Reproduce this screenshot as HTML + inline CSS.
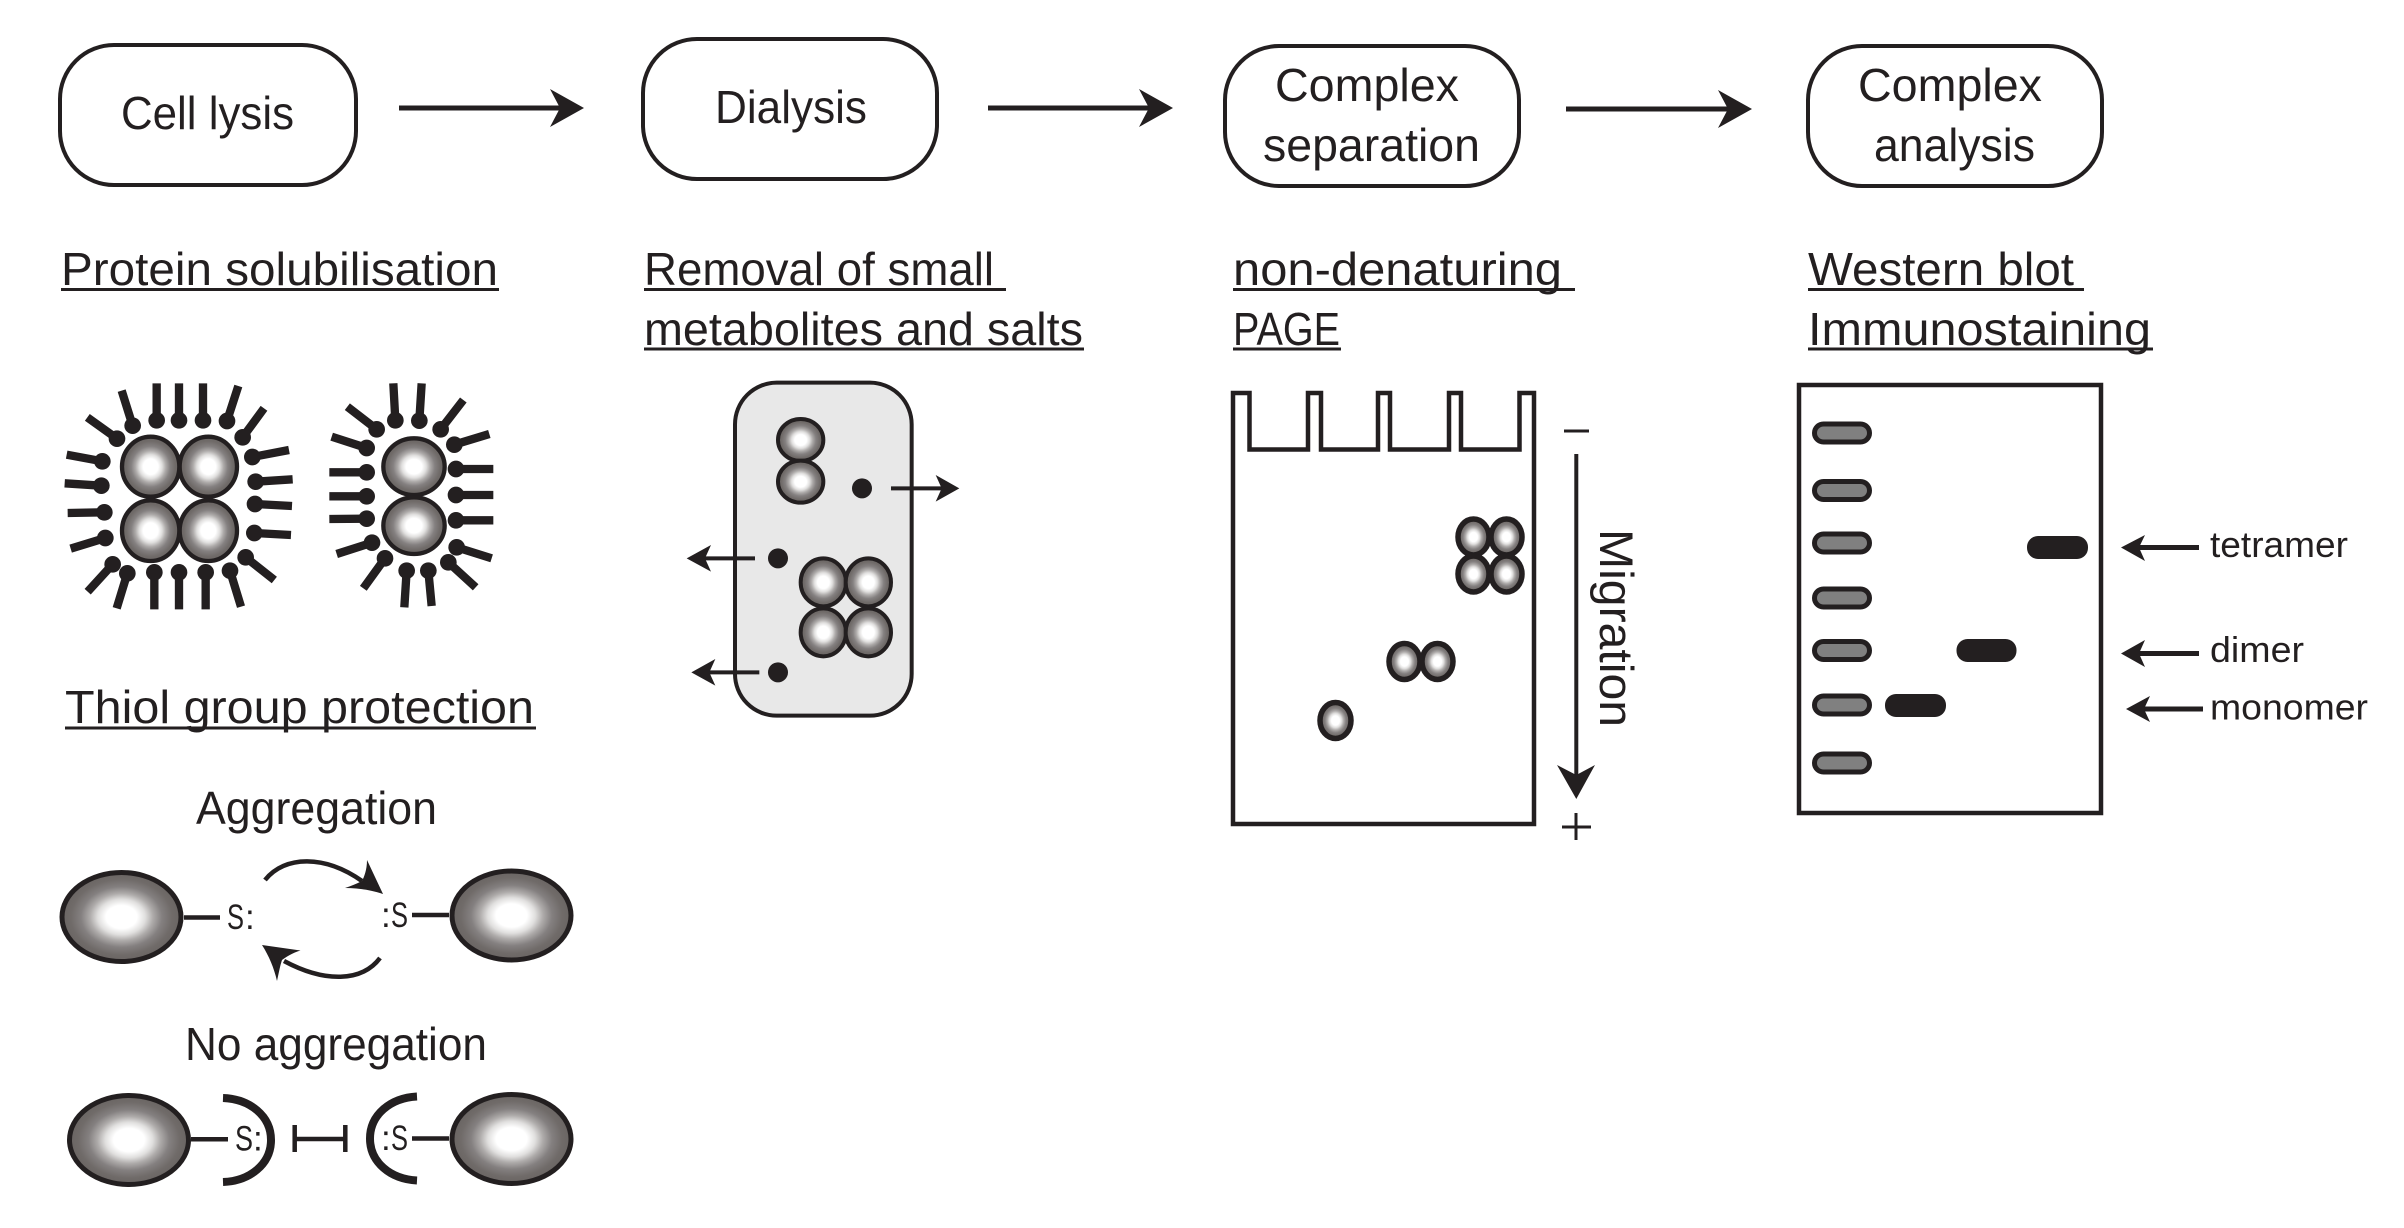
<!DOCTYPE html>
<html lang="en"><head><meta charset="utf-8"><title>Protein complex workflow</title>
<style>
html,body{margin:0;padding:0;background:#fff}
svg{display:block}
text{font-family:"Liberation Sans",sans-serif;fill:#231f20}
.t{font-size:46px}
.l{font-size:36px}
.s{font-size:35px}
.box{fill:#fff;stroke:#231f20;stroke-width:4}
.ln{stroke:#231f20;fill:none}
.hd{fill:#231f20;stroke:none}
.ov{fill:url(#g);stroke:#231f20}
.lad{fill:#808080;stroke:#231f20;stroke-width:5}
.blk{fill:#231f20}
</style></head><body>
<svg width="2404" height="1228" viewBox="0 0 2404 1228" xmlns="http://www.w3.org/2000/svg">
<defs>
<radialGradient id="g" cx="50%" cy="50%" r="50%">
<stop offset="0" stop-color="#fff"/><stop offset=".26" stop-color="#fff"/>
<stop offset=".4" stop-color="#e0dfde"/><stop offset=".53" stop-color="#aeabaa"/>
<stop offset=".68" stop-color="#848080"/><stop offset=".85" stop-color="#706b69"/><stop offset="1" stop-color="#696462"/>
</radialGradient>
</defs>
<rect width="2404" height="1228" fill="#fff"/>

<!-- process boxes -->
<rect class="box" x="60" y="45" width="296" height="140" rx="54"/>
<rect class="box" x="643" y="39" width="294" height="140" rx="54"/>
<rect class="box" x="1225" y="46" width="294" height="140" rx="54"/>
<rect class="box" x="1808" y="46" width="294" height="140" rx="54"/>
<text class="t" x="121" y="129" textLength="173" lengthAdjust="spacingAndGlyphs">Cell lysis</text>
<text class="t" x="715" y="123" textLength="152" lengthAdjust="spacingAndGlyphs">Dialysis</text>
<text class="t" x="1275" y="101" textLength="184" lengthAdjust="spacingAndGlyphs">Complex</text>
<text class="t" x="1263" y="161" textLength="217" lengthAdjust="spacingAndGlyphs">separation</text>
<text class="t" x="1858" y="101" textLength="184" lengthAdjust="spacingAndGlyphs">Complex</text>
<text class="t" x="1874" y="161" textLength="161" lengthAdjust="spacingAndGlyphs">analysis</text>

<!-- process arrows -->
<line class="ln" stroke-width="5" x1="399" y1="108" x2="562" y2="108"/><path class="hd" d="M584,108L550,89L560,108L550,127Z"/>
<line class="ln" stroke-width="5" x1="988" y1="108" x2="1151" y2="108"/><path class="hd" d="M1173,108L1139,89L1149,108L1139,127Z"/>
<line class="ln" stroke-width="5" x1="1566" y1="109" x2="1730" y2="109"/><path class="hd" d="M1752,109L1718,90L1728,109L1718,128Z"/>

<!-- headings -->
<text class="t" x="61" y="285" textLength="437" lengthAdjust="spacingAndGlyphs">Protein solubilisation</text>
<line class="ln" stroke-width="3" x1="61" y1="289.5" x2="499" y2="289.5"/>
<text class="t" x="644" y="285" textLength="350" lengthAdjust="spacingAndGlyphs">Removal of small</text>
<line class="ln" stroke-width="3" x1="644" y1="289.5" x2="1006" y2="289.5"/>
<text class="t" x="644" y="345" textLength="439" lengthAdjust="spacingAndGlyphs">metabolites and salts</text>
<line class="ln" stroke-width="3" x1="644" y1="349" x2="1084" y2="349"/>
<text class="t" x="1233" y="285" textLength="329" lengthAdjust="spacingAndGlyphs">non-denaturing</text>
<line class="ln" stroke-width="3" x1="1233" y1="289.5" x2="1575" y2="289.5"/>
<text class="t" x="1233" y="345" textLength="107" lengthAdjust="spacingAndGlyphs">PAGE</text>
<line class="ln" stroke-width="3" x1="1233" y1="349" x2="1341" y2="349"/>
<text class="t" x="1808" y="285" textLength="266" lengthAdjust="spacingAndGlyphs">Western blot</text>
<line class="ln" stroke-width="3" x1="1808" y1="289.5" x2="2084" y2="289.5"/>
<text class="t" x="1808" y="345" textLength="343" lengthAdjust="spacingAndGlyphs">Immunostaining</text>
<line class="ln" stroke-width="3" x1="1808" y1="349" x2="2153" y2="349"/>
<text class="t" x="65" y="723" textLength="469" lengthAdjust="spacingAndGlyphs">Thiol group protection</text>
<line class="ln" stroke-width="3" x1="65" y1="728" x2="536" y2="728"/>

<!-- micelles -->
<g transform="translate(40,360) scale(.33333)">
<g stroke="#231f20" stroke-width="25" fill="none">
<path d="M278,197L245,92M350,181L350,70M417,181L417,70M489,181L489,70M561,183L595,78M608,232L672,145M637,291L747,270M647,365L758,358M645,432L756,438M643,519L753,525M617,592L703,660M570,632L603,740M497,637L497,748M417,637L417,748M343,637L343,748M262,640L230,745M218,613L143,695M196,534L92,566M193,457L83,459M184,377L74,370M187,304L80,284M231,236L142,172"/>
<path d="M1066,181L1060,70M1138,182L1145,70M1202,208L1270,120M1243,254L1348,222M1248,327L1360,327M1248,405L1360,405M1248,481L1360,481M1250,562L1355,595M1225,607L1307,682M1165,632L1175,738M1100,632L1093,742M1035,595L970,685M996,548L890,582M980,476L868,477M980,409L868,409M980,337L868,337M980,264L875,230M1010,208L922,140"/>
</g>
<g fill="#231f20">
<circle cx="278" cy="197" r="25"/><circle cx="350" cy="181" r="25"/><circle cx="417" cy="181" r="25"/><circle cx="489" cy="181" r="25"/><circle cx="561" cy="183" r="25"/><circle cx="608" cy="232" r="25"/><circle cx="637" cy="291" r="25"/><circle cx="647" cy="365" r="25"/><circle cx="645" cy="432" r="25"/><circle cx="643" cy="519" r="25"/><circle cx="617" cy="592" r="25"/><circle cx="570" cy="632" r="25"/><circle cx="497" cy="637" r="25"/><circle cx="417" cy="637" r="25"/><circle cx="343" cy="637" r="25"/><circle cx="262" cy="640" r="25"/><circle cx="218" cy="613" r="25"/><circle cx="196" cy="534" r="25"/><circle cx="193" cy="457" r="25"/><circle cx="184" cy="377" r="25"/><circle cx="187" cy="304" r="25"/><circle cx="231" cy="236" r="25"/>
<circle cx="1066" cy="181" r="25"/><circle cx="1138" cy="182" r="25"/><circle cx="1202" cy="208" r="25"/><circle cx="1243" cy="254" r="25"/><circle cx="1248" cy="327" r="25"/><circle cx="1248" cy="405" r="25"/><circle cx="1248" cy="481" r="25"/><circle cx="1250" cy="562" r="25"/><circle cx="1225" cy="607" r="25"/><circle cx="1165" cy="632" r="25"/><circle cx="1100" cy="632" r="25"/><circle cx="1035" cy="595" r="25"/><circle cx="996" cy="548" r="25"/><circle cx="980" cy="476" r="25"/><circle cx="980" cy="409" r="25"/><circle cx="980" cy="337" r="25"/><circle cx="980" cy="264" r="25"/><circle cx="1010" cy="208" r="25"/>
</g>
<g stroke-width="13">
<ellipse class="ov" cx="332" cy="320" rx="86" ry="90"/><ellipse class="ov" cx="505" cy="320" rx="86" ry="90"/>
<ellipse class="ov" cx="332" cy="512" rx="86" ry="91"/><ellipse class="ov" cx="505" cy="512" rx="86" ry="91"/>
<ellipse class="ov" cx="1122" cy="320" rx="92" ry="85"/><ellipse class="ov" cx="1122" cy="497" rx="92" ry="85"/>
</g>
</g>

<!-- dialysis bag -->
<g transform="translate(680,370) scale(.33333)">
<rect x="165" y="38" width="530" height="999" rx="125" fill="#e8e8e8" stroke="#231f20" stroke-width="12"/>
<g stroke-width="12">
<ellipse class="ov" cx="362" cy="210" rx="68" ry="63"/><ellipse class="ov" cx="362" cy="335" rx="68" ry="63"/>
<ellipse class="ov" cx="430" cy="637" rx="68" ry="72"/><ellipse class="ov" cx="565" cy="637" rx="68" ry="72"/>
<ellipse class="ov" cx="430" cy="787" rx="68" ry="72"/><ellipse class="ov" cx="565" cy="787" rx="68" ry="72"/>
</g>
<g fill="#231f20"><circle cx="546" cy="355" r="30"/><circle cx="294" cy="565" r="30"/><circle cx="294" cy="907" r="30"/></g>
<g stroke="#231f20" stroke-width="12"><path d="M633,355H800M225,565H60M238,907H70"/></g>
<path class="hd" d="M838,355L767,315L785,355L767,395Z"/>
<path class="hd" d="M20,565L93,525L75,565L93,605Z"/>
<path class="hd" d="M34,907L106,867L88,907L106,947Z"/>
</g>

<!-- gel -->
<path class="ln" stroke-width="4.5" stroke-linejoin="miter" d="M1534,824V393H1519.5V449.5H1461V393H1449V449.5H1390V393H1378V449.5H1321V393H1308V449.5H1249.5V393H1233V824Z"/>
<line class="ln" stroke-width="3" x1="1564" y1="431" x2="1589" y2="431"/>
<line class="ln" stroke-width="4" x1="1576.3" y1="454" x2="1576.3" y2="780"/>
<path class="hd" d="M1576.3,799L1557,765L1576.3,775L1595,765Z"/>
<path class="ln" stroke-width="3" d="M1562,827H1591M1576,813V840"/>
<text transform="translate(1600,529) rotate(90)" style="font-size:47px" x="0" y="0" textLength="198" lengthAdjust="spacingAndGlyphs">Migration</text>
<g stroke-width="5.5">
<ellipse class="ov" cx="1473.5" cy="537" rx="15.5" ry="18"/><ellipse class="ov" cx="1506.5" cy="537" rx="15.5" ry="18"/>
<ellipse class="ov" cx="1473.5" cy="574" rx="15.5" ry="18"/><ellipse class="ov" cx="1506.5" cy="574" rx="15.5" ry="18"/>
<ellipse class="ov" cx="1404.5" cy="661.5" rx="15.5" ry="18"/><ellipse class="ov" cx="1437.5" cy="661.5" rx="15.5" ry="18"/>
<ellipse class="ov" cx="1335.5" cy="720.5" rx="15.5" ry="18"/>
</g>

<!-- blot -->
<rect x="1799" y="385" width="302" height="428" fill="#fff" stroke="#231f20" stroke-width="4.5"/>
<rect class="lad" x="1814.5" y="424" width="55" height="18" rx="9"/>
<rect class="lad" x="1814.5" y="481.5" width="55" height="18" rx="9"/>
<rect class="lad" x="1814.5" y="534" width="55" height="18" rx="9"/>
<rect class="lad" x="1814.5" y="589" width="55" height="18" rx="9"/>
<rect class="lad" x="1814.5" y="641.5" width="55" height="18" rx="9"/>
<rect class="lad" x="1814.5" y="696" width="55" height="18" rx="9"/>
<rect class="lad" x="1814.5" y="754" width="55" height="18" rx="9"/>
<rect class="blk" x="2027" y="536" width="61" height="23" rx="11"/>
<rect class="blk" x="1956.5" y="639" width="60" height="23" rx="11"/>
<rect class="blk" x="1885" y="694" width="61" height="23" rx="11"/>
<line class="ln" stroke-width="5" x1="2135" y1="547.5" x2="2199" y2="547.5"/><path class="hd" d="M2121,547.5L2145,535L2139,547.5L2145,561Z"/>
<line class="ln" stroke-width="5" x1="2135" y1="653.5" x2="2199" y2="653.5"/><path class="hd" d="M2121,653.5L2145,640L2139,653.5L2145,667Z"/>
<line class="ln" stroke-width="5" x1="2140" y1="709" x2="2203" y2="709"/><path class="hd" d="M2126,709L2150,696L2144,709L2150,722Z"/>
<text class="l" x="2210" y="557" textLength="138" lengthAdjust="spacingAndGlyphs">tetramer</text>
<text class="l" x="2210" y="662" textLength="94" lengthAdjust="spacingAndGlyphs">dimer</text>
<text class="l" x="2210" y="719.5" textLength="158" lengthAdjust="spacingAndGlyphs">monomer</text>

<!-- thiol: aggregation -->
<text class="t" x="196" y="824" textLength="241" lengthAdjust="spacingAndGlyphs">Aggregation</text>
<ellipse class="ov" stroke-width="5" cx="121.5" cy="917" rx="59.5" ry="44.5"/>
<ellipse class="ov" stroke-width="5" cx="511.5" cy="915.5" rx="59.5" ry="44.5"/>
<line class="ln" stroke-width="4.5" x1="184" y1="917.5" x2="220" y2="917.5"/>
<line class="ln" stroke-width="4.5" x1="412" y1="915" x2="449" y2="915"/>
<text class="s" x="227" y="929" textLength="17" lengthAdjust="spacingAndGlyphs">S</text><text class="s" x="245" y="929">:</text>
<text class="s" x="381" y="927">:</text><text class="s" x="391" y="927" textLength="17" lengthAdjust="spacingAndGlyphs">S</text>
<path class="ln" stroke-width="4.5" d="M265,880C285,855 325,855 362,881"/>
<path class="hd" d="M383,894L367,860C367,870 364,877 362,881C356,884 351,886 345,888C358,888 371,890 383,894Z"/>
<path class="ln" stroke-width="4.5" d="M380,958C362,982 325,983 284,961"/>
<path class="hd" d="M262,945L300.5,950.5C292,953 286,957 282,960C280,966 279,972 277,981C274,968 269,956 262,945Z"/>

<!-- thiol: no aggregation -->
<text class="t" x="185" y="1060" textLength="302" lengthAdjust="spacingAndGlyphs">No aggregation</text>
<ellipse class="ov" stroke-width="5" cx="129" cy="1140" rx="59.5" ry="44.5"/>
<ellipse class="ov" stroke-width="5" cx="511.5" cy="1139" rx="59.5" ry="44.5"/>
<line class="ln" stroke-width="4.5" x1="191" y1="1139.3" x2="228" y2="1139.3"/>
<line class="ln" stroke-width="4.5" x1="412" y1="1138.5" x2="449" y2="1138.5"/>
<text class="s" x="235" y="1150.5" textLength="18" lengthAdjust="spacingAndGlyphs">S</text><text class="s" x="253" y="1150.5">:</text>
<text class="s" x="381" y="1150">:</text><text class="s" x="391" y="1150" textLength="17" lengthAdjust="spacingAndGlyphs">S</text>
<path class="ln" stroke-width="8" d="M223,1098C250,1099 271,1116 271,1140C271,1164 250,1181 223,1182"/>
<path class="ln" stroke-width="8" d="M417,1096.5C390,1098 370,1115 370,1138.5C370,1162 390,1179 417,1180.5"/>
<path class="ln" stroke-width="4.5" d="M294.7,1125V1152M345.3,1125V1152M294.7,1139H345.3"/>
</svg>
</body></html>
